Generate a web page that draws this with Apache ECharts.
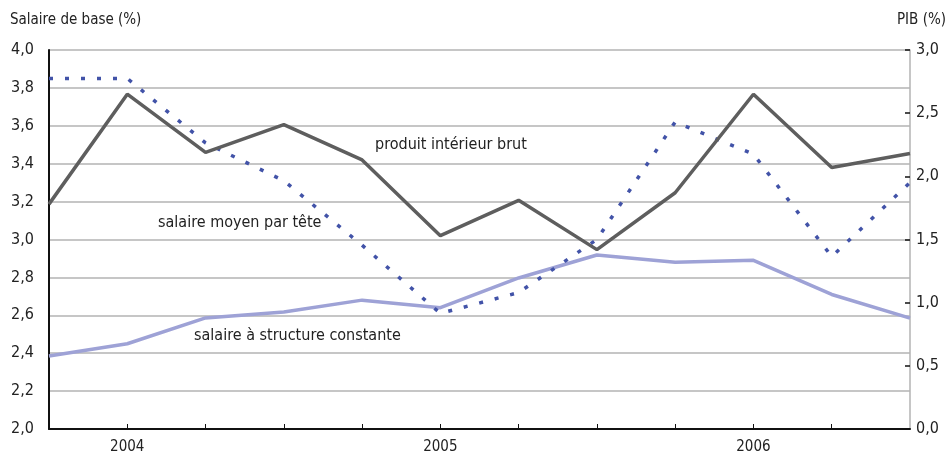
<!DOCTYPE html>
<html>
<head>
<meta charset="utf-8">
<script src="https://cdn.jsdelivr.net/npm/echarts@6/dist/echarts.min.js"></script>
<style>
  html, body { margin: 0; padding: 0; background: #fff; }
  #chart { width: 952px; height: 460px; }
</style>
</head>
<body>
<div id="chart"></div>
<script>
// trimestres, de fin 2003 à mi-2006
const quarters = ['2003 T4', '2004 T1', '2004 T2', '2004 T3', '2004 T4',
  '2005 T1', '2005 T2', '2005 T3', '2005 T4', '2006 T1', '2006 T2', '2006 T3']

// PIB (axe de droite)
const pib = [1.78, 2.65, 2.19, 2.41, 2.13, 1.53, 1.81, 1.42, 1.87, 2.65, 2.07, 2.18]
// salaire moyen par tête (axe de gauche)
const salaireMoyen = [3.85, 3.85, 3.51, 3.31, 2.97, 2.61, 2.72, 3.0, 3.62, 3.45, 2.91, 3.3]
// salaire à structure constante (axe de gauche)
const salaireStructure = [2.385, 2.45, 2.586, 2.617, 2.68, 2.64, 2.797, 2.918, 2.88, 2.89, 2.71, 2.585]

const FONT = '"Liberation Sans Narrow", "DejaVu Sans Condensed", sans-serif'
const comma = v => v.toFixed(1).replace('.', ',')

const chart = echarts.init(document.getElementById('chart'))
chart.setOption({
  animation: false,
  backgroundColor: '#fff',
  textStyle: { fontFamily: FONT },
  grid: { left: 49, right: 42, top: 50, bottom: 31 },
  xAxis: {
    type: 'category',
    boundaryGap: false,
    data: quarters,
    axisLine: { lineStyle: { color: '#111', width: 2 } },
    axisTick: {
      inside: true,
      length: 5,
      interval: idx => idx > 0 && idx < quarters.length - 1,
      lineStyle: { color: '#111', width: 1 }
    },
    axisLabel: {
      interval: idx => quarters[idx].endsWith('T1'),
      formatter: v => v.slice(0, 4),
      color: '#222',
      fontSize: 15,
      fontFamily: FONT,
      margin: 11
    },
    splitLine: { show: false }
  },
  yAxis: [
    {
      type: 'value',
      min: 2,
      max: 4,
      interval: 0.2,
      position: 'left',
      name: 'Salaire de base (%)',
      nameLocation: 'end',
      nameGap: 22,
      nameTextStyle: { color: '#222', fontSize: 15, fontFamily: FONT, align: 'left', padding: [0, 0, 0, -39] },
      axisLine: { show: true, lineStyle: { color: '#111', width: 2 } },
      axisTick: { show: false },
      axisLabel: { formatter: comma, color: '#222', fontSize: 16, fontFamily: FONT, margin: 15 },
      splitLine: { lineStyle: { color: '#b3b3b3', width: 1.5 } }
    },
    {
      type: 'value',
      min: 0,
      max: 3,
      interval: 0.5,
      position: 'right',
      name: 'PIB (%)',
      nameLocation: 'end',
      nameGap: 22,
      nameTextStyle: { color: '#222', fontSize: 15, fontFamily: FONT, align: 'right', padding: [0, -36, 0, 0] },
      axisLine: { show: true, lineStyle: { color: '#b3b3b3', width: 1.5 } },
      axisTick: { show: true, inside: true, length: 5, lineStyle: { color: '#111', width: 1.5 } },
      axisLabel: { formatter: comma, color: '#222', fontSize: 16, fontFamily: FONT, margin: 6 },
      splitLine: { show: false }
    }
  ],
  series: [
    {
      name: 'salaire à structure constante',
      type: 'line',
      yAxisIndex: 0,
      data: salaireStructure,
      showSymbol: false,
      lineStyle: { color: '#9ea2d6', width: 3.5 }
    },
    {
      name: 'salaire moyen par tête',
      type: 'line',
      yAxisIndex: 0,
      data: salaireMoyen,
      showSymbol: false,
      lineStyle: { color: '#4253a8', width: 3.5, type: [4, 12], cap: 'butt' }
    },
    {
      name: 'produit intérieur brut',
      type: 'line',
      yAxisIndex: 1,
      data: pib,
      showSymbol: false,
      lineStyle: { color: '#5e5e5e', width: 3.5 }
    }
  ],
  graphic: [
    { type: 'text', left: 375, top: 137, style: { text: 'produit intérieur brut', fontSize: 16, fontFamily: FONT, fill: '#222' } },
    { type: 'text', left: 158, top: 215, style: { text: 'salaire moyen par tête', fontSize: 16, fontFamily: FONT, fill: '#222' } },
    { type: 'text', left: 194, top: 328, style: { text: 'salaire à structure constante', fontSize: 16, fontFamily: FONT, fill: '#222' } }
  ]
})
</script>
</body>
</html>
